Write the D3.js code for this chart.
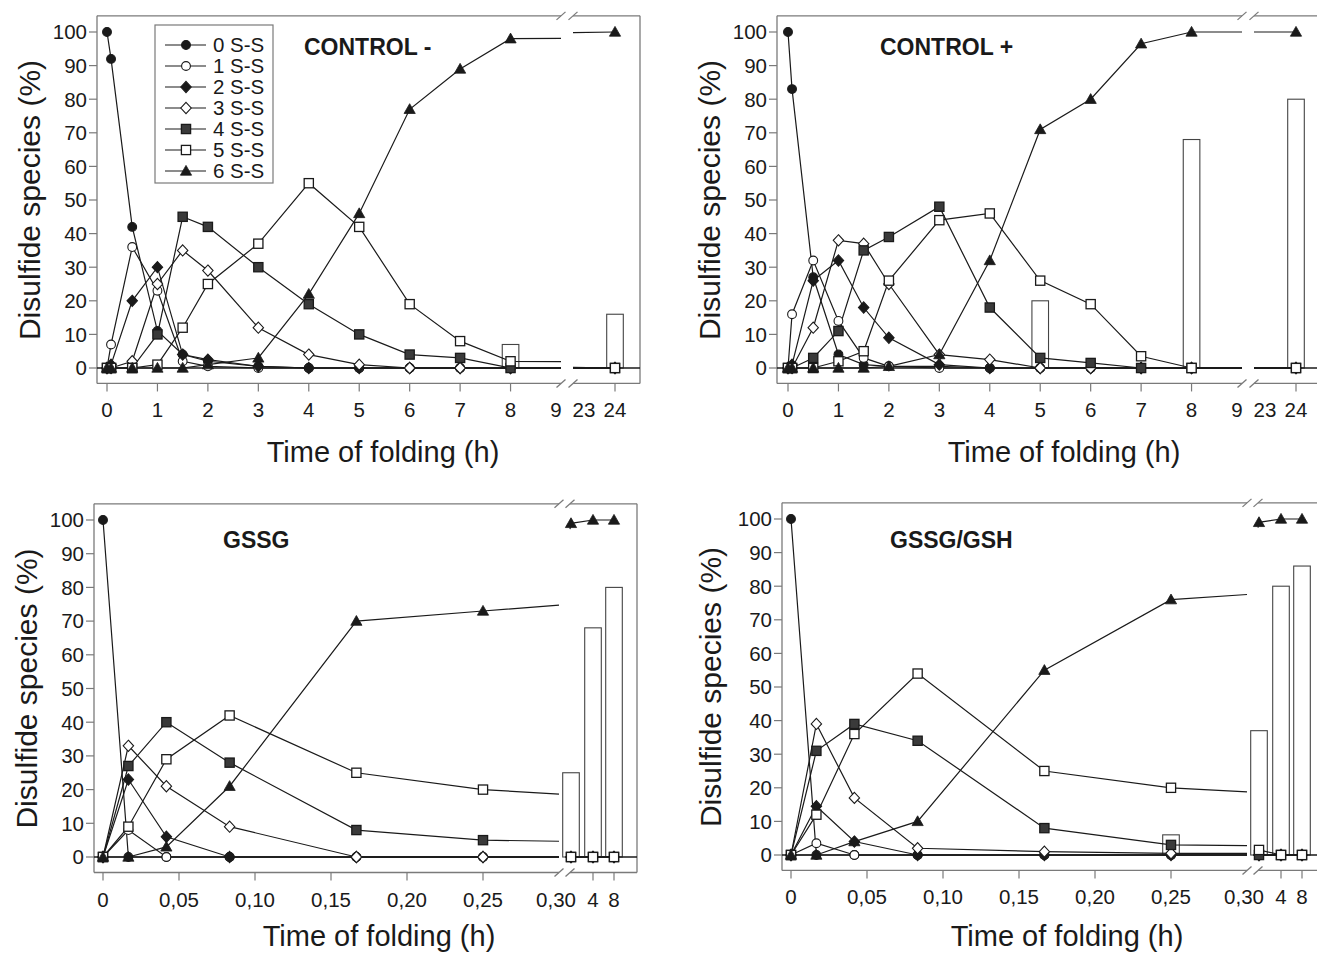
<!DOCTYPE html>
<html>
<head>
<meta charset="utf-8">
<script src="https://cdn.jsdelivr.net/npm/d3@7"></script>
<style>
  body { margin: 0; background: #fff; }
  svg { display: block; font-family: "Liberation Sans", Arial, sans-serif; }
</style>
</head>
<body>
<script>
// ---- data ----
const seriesNames = ["0 S-S", "1 S-S", "2 S-S", "3 S-S", "4 S-S", "5 S-S", "6 S-S"];

// hours
const controlTimes = [0, 0.08, 0.5, 1, 1.5, 2, 3, 4, 5, 6, 7, 8, 24];
const gssgTimes = [0, 0.0167, 0.0417, 0.0833, 0.1667, 0.25, 1, 4, 8];

// one row per species, % of total
const controlMinus = [
  [100, 92, 42, 11, 4, 2, 0.5, 0, 0, 0, 0, 0, 0],
  [0, 7, 36, 23, 2, 0.5, 0, 0, 0, 0, 0, 0, 0],
  [0, 1, 20, 30, 4, 2.5, 0.5, 0, 0, 0, 0, 0, 0],
  [0, 0, 2, 25, 35, 29, 12, 4, 1, 0, 0, 0, 0],
  [0, 0, 0, 10, 45, 42, 30, 19, 10, 4, 3, 0, 0],
  [0, 0, 0, 1, 12, 25, 37, 55, 42, 19, 8, 2, 0],
  [0, 0, 0, 0, 0, 1, 3, 22, 46, 77, 89, 98, 100]
];
const controlPlus = [
  [100, 83, 27, 4, 1, 0.5, 0.5, 0, 0, 0, 0, 0, 0],
  [0, 16, 32, 14, 3, 0.5, 0, 0, 0, 0, 0, 0, 0],
  [0, 1, 26, 32, 18, 9, 1, 0, 0, 0, 0, 0, 0],
  [0, 0, 12, 38, 37, 25, 4, 2.5, 0, 0, 0, 0, 0],
  [0, 0, 3, 11, 35, 39, 48, 18, 3, 1.5, 0, 0, 0],
  [0, 0, 0, 2, 5, 26, 44, 46, 26, 19, 3.5, 0, 0],
  [0, 0, 0, 0, 0, 0.5, 4, 32, 71, 80, 96.5, 100, 100]
];
const gssg = [
  [100, 0, 0, 0, 0, 0, 0, 0, 0],
  [0, 8, 0, 0, 0, 0, 0, 0, 0],
  [0, 23, 6, 0, 0, 0, 0, 0, 0],
  [0, 33, 21, 9, 0, 0, 0, 0, 0],
  [0, 27, 40, 28, 8, 5, 0, 0, 0],
  [0, 9, 29, 42, 25, 20, 0, 0, 0],
  [0, 0, 3, 21, 70, 73, 99, 100, 100]
];
const gssgGsh = [
  [100, 0, 0, 0, 0, 0, 0, 0, 0],
  [0, 3.5, 0, 0, 0, 0, 0, 0, 0],
  [0, 14.5, 4, 0, 0, 0, 0, 0, 0],
  [0, 39, 17, 2, 1, 0.5, 0, 0, 0],
  [0, 31, 39, 34, 8, 3, 0, 0, 0],
  [0, 12, 36, 54, 25, 20, 1.5, 0, 0],
  [0, 0, 4, 10, 55, 76, 99, 100, 100]
];

// open bars (5 S-S native fraction)
const controlMinusBarTimes = [8, 24];
const controlMinusBars = [7, 16];
const controlPlusBarTimes = [5, 8, 24];
const controlPlusBars = [20, 68, 80];
const gssgBarTimes = [1, 4, 8];
const gssgBars = [25, 68, 80];
const gssgGshBarTimes = [0.25, 1, 4, 8];
const gssgGshBars = [6, 37, 80, 86];

const yTicks = d3.range(0, 101, 10);
const controlTicks = [0, 1, 2, 3, 4, 5, 6, 7, 8, 24];
const gssgTicks = [0, 0.05, 0.10, 0.15, 0.20, 0.25, 4, 8];

// ---- drawing ----
const svg = d3.select("body").append("svg")
  .attr("width", 1317)
  .attr("height", 954);

const ink = "#1a1a1a";
const frameCol = "#7a7a7a";

// broken x axes: piecewise linear scales
const axisTypes = {
  control: {
    domain: [0, 9, 22.7, 24, 25], offs: [0, 454, 466, 508, 540],
    b: 9, c: 22.7, frameR: 533, ticks: controlTicks,
    fmt: d => String(d),
    extra: [{ off: 449, text: "9" }, { off: 477, text: "23" }]
  },
  gssg: {
    domain: [0, 0.30, 0.95, 1, 4, 8, 9], offs: [0, 456, 467, 468, 490, 511, 516],
    b: 0.30, c: 0.95, frameR: 534, ticks: gssgTicks,
    fmt: d => d === 0 || d >= 1 ? String(d) : d3.format(".2f")(d).replace(".", ","),
    extra: [{ off: 453, text: "0,30" }]
  }
};

const panels = [
  { title: "CONTROL -", type: "control", times: controlTimes, values: controlMinus,
    barT: controlMinusBarTimes, barV: controlMinusBars,
    x0: 107, frameL: 97, y0: 368, y100: 32, titleX: 304, titleY: 55, ylabX: 29, xlabY: 462, legend: true },
  { title: "CONTROL +", type: "control", times: controlTimes, values: controlPlus,
    barT: controlPlusBarTimes, barV: controlPlusBars,
    x0: 788, frameL: 777, y0: 368, y100: 32, titleX: 880, titleY: 55, ylabX: 709, xlabY: 462 },
  { title: "GSSG", type: "gssg", times: gssgTimes, values: gssg,
    barT: gssgBarTimes, barV: gssgBars,
    x0: 103, frameL: 94, y0: 857, y100: 520, titleX: 223, titleY: 548, ylabX: 26, xlabY: 946 },
  { title: "GSSG/GSH", type: "gssg", times: gssgTimes, values: gssgGsh,
    barT: gssgGshBarTimes, barV: gssgGshBars,
    x0: 791, frameL: 782, y0: 855, y100: 519, titleX: 890, titleY: 548, ylabX: 710, xlabY: 946 }
];

function splitSeries(times, vals, b, c) {
  const pts = times.map((t, i) => [t, vals[i]]).filter(p => p[1] != null);
  const left = pts.filter(p => p[0] <= b);
  const right = pts.filter(p => p[0] >= c);
  const pL = left[left.length - 1], pR = right[0];
  if (pL && pR) {
    const f = t => pL[1] + (pR[1] - pL[1]) * (t - pL[0]) / (pR[0] - pL[0]);
    if (pL[0] < b) left.push([b, f(b)]);
    if (pR[0] > c) right.unshift([c, f(c)]);
  }
  return [left, right];
}

function marker(g, k, cx, cy) {
  if (k === 0 || k === 1) {
    g.append("circle").attr("cx", cx).attr("cy", cy).attr("r", 4.4)
      .attr("fill", k === 0 ? ink : "#fff").attr("stroke", ink).attr("stroke-width", 1.1);
  } else if (k === 2 || k === 3) {
    g.append("path").attr("d", `M${cx},${cy - 5.6}L${cx + 5.2},${cy}L${cx},${cy + 5.6}L${cx - 5.2},${cy}Z`)
      .attr("fill", k === 2 ? ink : "#fff").attr("stroke", ink).attr("stroke-width", 1.1);
  } else if (k === 4 || k === 5) {
    g.append("rect").attr("x", cx - 4.6).attr("y", cy - 4.6).attr("width", 9.2).attr("height", 9.2)
      .attr("fill", k === 4 ? "#3a3a3a" : "#fff").attr("stroke", ink).attr("stroke-width", 1.3);
  } else {
    g.append("path").attr("d", `M${cx},${cy - 5.6}L${cx + 5.6},${cy + 4.2}L${cx - 5.6},${cy + 4.2}Z`)
      .attr("fill", ink).attr("stroke", ink).attr("stroke-width", 0.8);
  }
}

panels.forEach(p => {
  const at = axisTypes[p.type];
  const x = d3.scaleLinear().domain(at.domain).range(at.offs.map(o => p.x0 + o));
  const y = d3.scaleLinear().domain([0, 100]).range([p.y0, p.y100]);
  const g = svg.append("g");

  const fTop = y(104.8), fBot = y(-4.6);
  const fL = p.frameL, fR = p.x0 + at.frameR;
  const gapA = x(at.b), gapB = x(at.c);

  // frame with break
  const frame = g.append("g").attr("stroke", frameCol).attr("stroke-width", 1.3).attr("fill", "none");
  frame.append("line").attr("x1", fL).attr("x2", fL).attr("y1", fTop).attr("y2", fBot);
  frame.append("line").attr("x1", fR).attr("x2", fR).attr("y1", fTop).attr("y2", fBot);
  [fTop, fBot].forEach(yy => {
    frame.append("line").attr("x1", fL).attr("x2", gapA).attr("y1", yy).attr("y2", yy);
    frame.append("line").attr("x1", gapB).attr("x2", fR).attr("y1", yy).attr("y2", yy);
    [gapA, gapB].forEach(xx => {
      frame.append("line").attr("x1", xx - 4.5).attr("x2", xx + 4.5)
        .attr("y1", yy + 4).attr("y2", yy - 4);
    });
  });

  // y axis
  yTicks.forEach(v => {
    g.append("line").attr("x1", fL - 8).attr("x2", fL).attr("y1", y(v)).attr("y2", y(v))
      .attr("stroke", frameCol).attr("stroke-width", 1.2);
    g.append("text").attr("x", fL - 10).attr("y", y(v)).attr("dy", "0.36em")
      .attr("text-anchor", "end").attr("font-size", 20.5).attr("fill", ink).text(v);
  });

  // x axis
  at.ticks.forEach(v => {
    g.append("line").attr("x1", x(v)).attr("x2", x(v)).attr("y1", fBot).attr("y2", fBot + 8)
      .attr("stroke", frameCol).attr("stroke-width", 1.2);
    g.append("text").attr("x", x(v)).attr("y", fBot + 34)
      .attr("text-anchor", "middle").attr("font-size", 20.5).attr("fill", ink).text(at.fmt(v));
  });
  at.extra.forEach(e => {
    g.append("text").attr("x", p.x0 + e.off).attr("y", fBot + 34)
      .attr("text-anchor", "middle").attr("font-size", 20.5).attr("fill", ink).text(e.text);
  });

  // axis titles
  g.append("text").attr("x", p.x0 + 276).attr("y", p.xlabY)
    .attr("text-anchor", "middle").attr("font-size", 29).attr("fill", ink)
    .text("Time of folding (h)");
  g.append("text")
    .attr("transform", `translate(${p.ylabX},${y(50)}) rotate(-90)`)
    .attr("dy", "0.35em").attr("text-anchor", "middle").attr("font-size", 30).attr("fill", ink)
    .text("Disulfide species (%)");

  // panel title
  g.append("text").attr("x", p.titleX).attr("y", p.titleY)
    .attr("font-size", 23).attr("font-weight", "bold").attr("fill", ink).text(p.title);

  // bars
  g.selectAll(".bar").data(p.barT.map((t, i) => [t, p.barV[i]])).enter()
    .append("rect")
    .attr("x", d => x(d[0]) - 8.3).attr("width", 16.6)
    .attr("y", d => y(d[1])).attr("height", d => y(0) - y(d[1]))
    .attr("fill", "none").attr("stroke", "#444").attr("stroke-width", 1.1);

  // zero reference line
  [[fL, gapA], [gapB, fR]].forEach(([a, b]) => {
    g.append("line").attr("x1", a).attr("x2", b).attr("y1", y(0)).attr("y2", y(0))
      .attr("stroke", ink).attr("stroke-width", 1.3);
  });

  // series lines
  const line = d3.line().x(d => x(d[0])).y(d => y(d[1]));
  p.values.forEach(vals => {
    splitSeries(p.times, vals, at.b, at.c).forEach(part => {
      if (part.length > 1) {
        g.append("path").attr("d", line(part)).attr("fill", "none")
          .attr("stroke", ink).attr("stroke-width", 1.2);
      }
    });
  });

  // markers
  p.values.forEach((vals, k) => {
    vals.forEach((v, i) => {
      if (v != null) marker(g, k, x(p.times[i]), y(v));
    });
  });

  // legend
  if (p.legend) {
    const lg = g.append("g");
    lg.append("rect").attr("x", 155).attr("y", 25).attr("width", 118).attr("height", 158)
      .attr("fill", "#fff").attr("stroke", frameCol).attr("stroke-width", 1.2);
    seriesNames.forEach((name, k) => {
      const yy = 45 + k * 21;
      lg.append("line").attr("x1", 165).attr("x2", 206).attr("y1", yy).attr("y2", yy)
        .attr("stroke", ink).attr("stroke-width", 1.2);
      marker(lg, k, 186, yy);
      lg.append("text").attr("x", 213).attr("y", yy).attr("dy", "0.36em")
        .attr("font-size", 20.5).attr("fill", ink).text(name);
    });
  }
});
</script>
</body>
</html>
